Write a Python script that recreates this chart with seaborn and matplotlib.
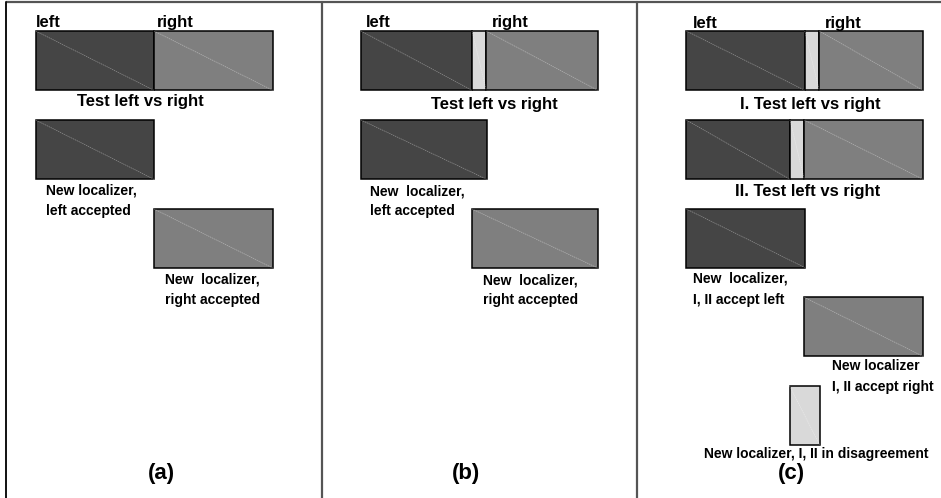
import matplotlib
matplotlib.use("Agg")
import matplotlib.pyplot as plt
import seaborn as sns

sns.set_theme(style="white")
plt.rcParams["font.family"] = ["Liberation Sans", "DejaVu Sans"]
plt.rcParams["font.weight"] = "bold"

# ---- boxes (pixel layout of the schematic) ----
box_kind = ["dark", "gray", "dark", "gray",
            "dark", "light", "gray", "dark", "gray",
            "dark", "light", "gray", "dark", "light", "gray", "dark", "gray", "light"]
box_x0 = [35.7, 154.0, 35.7, 154.0,
          361.0, 472.0, 486.3, 361.0, 472.0,
          686.3, 804.7, 819.3, 686.3, 790.0, 804.3, 686.3, 804.3, 789.7]
box_x1 = [154.0, 272.7, 154.0, 272.7,
          472.0, 486.3, 597.7, 486.7, 597.7,
          804.7, 819.3, 923.0, 790.0, 804.3, 923.0, 804.7, 923.0, 819.7]
box_y0 = [31.0, 31.0, 120.0, 209.0,
          31.0, 31.0, 31.0, 120.0, 209.0,
          31.0, 31.0, 31.0, 120.0, 120.0, 120.0, 209.0, 297.3, 386.0]
box_y1 = [90.3, 90.3, 179.3, 268.0,
          90.3, 90.3, 90.3, 179.3, 268.0,
          90.3, 90.3, 90.3, 179.3, 179.3, 179.3, 267.5, 356.3, 445.0]
kind_color = {"dark": "#454545", "gray": "#7f7f7f", "light": "#d9d9d9"}

# ---- texts ----
label_text = ["left", "right", "Test left vs right",
              "New localizer,", "left accepted", "New  localizer,", "right accepted",
              "left", "right", "Test left vs right",
              "New  localizer,", "left accepted", "New  localizer,", "right accepted",
              "left", "right", "I. Test left vs right", "II. Test left vs right",
              "New  localizer,", "I, II accept left", "New localizer", "I, II accept right",
              "New localizer, I, II in disagreement"]
label_x = [36, 157, 140,
           46, 46, 165, 165,
           366, 492, 494.5,
           370, 370, 482.7, 482.7,
           693, 825, 810, 808,
           693.3, 693.3, 832, 832,
           704]
label_y = [27, 27, 106,
           194, 215, 283.5, 303.5,
           27, 27, 109,
           195, 215, 284, 304,
           28, 28, 109, 196,
           282, 304, 369.5, 390.7,
           457.5]
label_size = [12, 12, 12,
              10, 10, 10, 10,
              12, 12, 12,
              10, 10, 10, 10,
              12, 12, 12, 12,
              10, 10, 10, 10,
              10]
label_ha = ["left", "left", "center",
            "left", "left", "left", "left",
            "left", "left", "center",
            "left", "left", "left", "left",
            "left", "left", "center", "center",
            "left", "left", "left", "left",
            "left"]

panel_text = ["(a)", "(b)", "(c)"]
panel_x = [161, 466, 791]
panel_y = [473, 473, 473]

frame_x = [6.0, 321.7, 636.7]
top_y = 2.0

fig = plt.figure(figsize=(9.41, 4.98), dpi=100)
ax = fig.add_axes([0, 0, 1, 1])
ax.set_xlim(0, 941)
ax.set_ylim(498, 0)
ax.axis("off")

for k, x0, x1, y0, y1 in zip(box_kind, box_x0, box_x1, box_y0, box_y1):
    ax.bar(x0, y1 - y0, width=x1 - x0, bottom=y0, align="edge",
           color=kind_color[k], edgecolor="black", linewidth=1.1, zorder=2)
    ax.plot([x0, x1], [y0, y1], color="white", alpha=0.4, lw=0.5,
            ls=(0, (2, 1)), zorder=3)

for t, x, y, s, ha in zip(label_text, label_x, label_y, label_size, label_ha):
    ax.text(x, y, t, fontsize=s, fontweight="bold", ha=ha, va="baseline",
            color="black", zorder=4)

for t, x, y in zip(panel_text, panel_x, panel_y):
    ax.text(x, y, t, fontsize=16, fontweight="bold", ha="center", va="center",
            color="black")

ax.plot([frame_x[0], 941], [top_y, top_y], color="#555555", lw=1.6, zorder=1,
        solid_capstyle="butt")
ax.plot([frame_x[0], frame_x[0]], [top_y, 498], color="#111111", lw=1.4, zorder=1)
for fx in frame_x[1:]:
    ax.plot([fx, fx], [top_y, 498], color="#555555", lw=1.6, zorder=1)

fig.savefig("out.png", dpi=100)
